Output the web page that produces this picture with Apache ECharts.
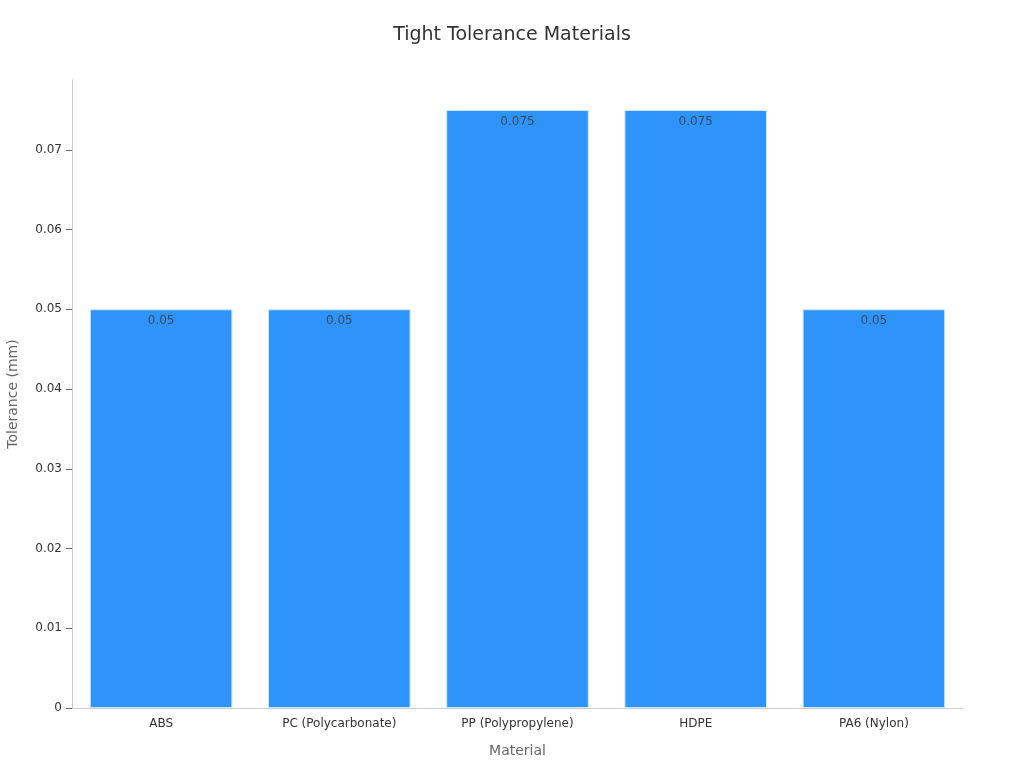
<!DOCTYPE html>
<html>
<head>
<meta charset="utf-8">
<script src="https://cdn.jsdelivr.net/npm/echarts@6/dist/echarts.min.js"></script>
<style>html,body{margin:0;padding:0;background:#fff}#c{width:1024px;height:768px}</style>
</head>
<body>
<div id="c"></div>
<script>
const categories = ['ABS', 'PC (Polycarbonate)', 'PP (Polypropylene)', 'HDPE', 'PA6 (Nylon)'];
const tolerances = [0.05, 0.05, 0.075, 0.075, 0.05];
const chart = echarts.init(document.getElementById('c'));
const font = 'DejaVu Sans';
chart.setOption({
  animation: false,
  textStyle: { fontFamily: font },
  title: {
    text: 'Tight Tolerance Materials', left: 'center', top: 21,
    textStyle: { fontFamily: font, fontSize: 19, fontWeight: 'normal', color: '#333' }
  },
  grid: { left: 72, right: 61, top: 80, bottom: 60, containLabel: false, outerBoundsMode: 'none' },
  xAxis: {
    type: 'category', data: categories,
    name: 'Material', nameLocation: 'middle', nameGap: 36,
    nameTextStyle: { fontFamily: font, fontSize: 14, color: '#666' },
    axisLine: { lineStyle: { color: '#ccc' } },
    axisTick: { alignWithLabel: true, length: 6, lineStyle: { color: '#666' } },
    axisLabel: { fontFamily: font, fontSize: 12, color: '#333', margin: 10 }
  },
  yAxis: {
    type: 'value', min: 0, max: 0.07875, interval: 0.01,
    name: 'Tolerance (mm)', nameLocation: 'middle', nameGap: 52,
    nameTextStyle: { fontFamily: font, fontSize: 14, color: '#666' },
    axisLine: { show: true, lineStyle: { color: '#ccc' } },
    axisTick: { show: true, length: 6, lineStyle: { color: '#666' } },
    splitLine: { show: false },
    axisLabel: {
      fontFamily: font, fontSize: 12, color: '#333', margin: 10,
      showMaxLabel: false,
      formatter: v => (Math.round(v * 100) / 100).toString()
    }
  },
  series: [{
    type: 'bar', data: tolerances, barWidth: '80%',
    itemStyle: { color: '#2E93FA', borderColor: '#cfe6ff', borderWidth: 1 },
    label: {
      show: true, position: 'insideTop', distance: 6,
      fontFamily: font, fontSize: 12, color: '#3a4a5c',
      formatter: p => String(p.value)
    }
  }]
});
</script>
</body>
</html>
